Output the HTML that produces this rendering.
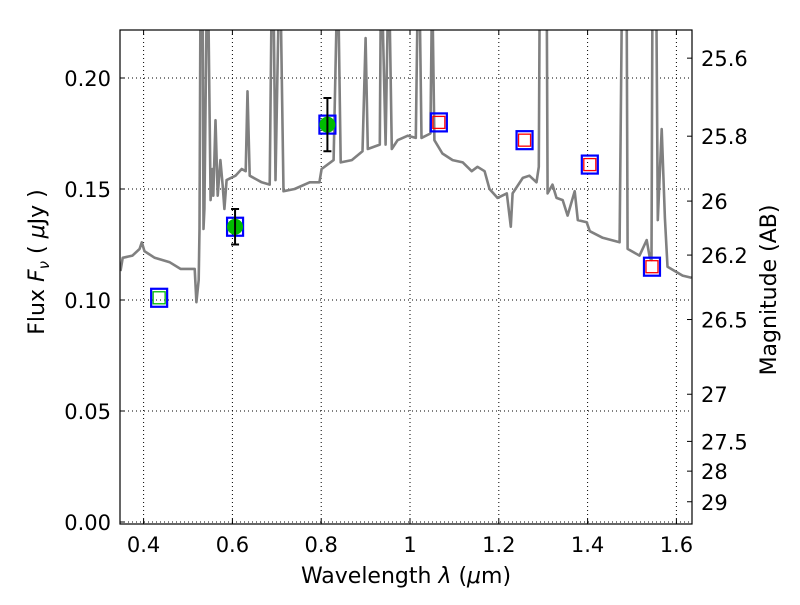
<!DOCTYPE html>
<html><head><meta charset="utf-8"><style>
body{margin:0;background:#fff}
svg text{font-family:"DejaVu Sans","Liberation Sans",sans-serif;fill:#000}
</style></head><body>
<svg id="chart" width="800" height="600" xmlns="http://www.w3.org/2000/svg"></svg>
<script>
const specLam=[0.348,0.353,0.375,0.391,0.396,0.402,0.425,0.459,0.483,0.515,0.519,0.524,0.526,0.528,0.533,0.535,0.537,0.542,0.546,0.551,0.555,0.557,0.562,0.567,0.573,0.578,0.582,0.587,0.607,0.621,0.630,0.634,0.639,0.666,0.684,0.688,0.693,0.697,0.704,0.709,0.715,0.740,0.774,0.796,0.801,0.828,0.835,0.839,0.844,0.869,0.893,0.900,0.905,0.932,0.934,0.938,0.945,0.950,0.954,0.959,0.972,0.995,1.013,1.017,1.022,1.026,1.046,1.049,1.051,1.055,1.073,1.096,1.119,1.139,1.152,1.168,1.179,1.197,1.218,1.227,1.231,1.254,1.269,1.285,1.290,1.292,1.308,1.310,1.321,1.330,1.344,1.355,1.371,1.378,1.398,1.405,1.434,1.472,1.477,1.488,1.490,1.517,1.533,1.540,1.544,1.546,1.555,1.558,1.567,1.574,1.580,1.614,1.634];
const specFlux=[0.113,0.119,0.120,0.123,0.126,0.122,0.119,0.117,0.114,0.114,0.099,0.109,0.132,0.23,0.23,0.132,0.141,0.23,0.23,0.145,0.159,0.147,0.181,0.147,0.163,0.152,0.141,0.154,0.156,0.159,0.158,0.194,0.156,0.153,0.152,0.23,0.23,0.154,0.23,0.23,0.149,0.150,0.153,0.153,0.159,0.163,0.23,0.23,0.162,0.163,0.167,0.218,0.168,0.170,0.23,0.23,0.170,0.23,0.23,0.168,0.172,0.174,0.173,0.23,0.23,0.173,0.175,0.23,0.23,0.172,0.166,0.163,0.162,0.158,0.160,0.158,0.150,0.146,0.148,0.133,0.148,0.155,0.156,0.153,0.160,0.23,0.23,0.148,0.152,0.146,0.145,0.138,0.149,0.136,0.135,0.131,0.128,0.126,0.23,0.23,0.123,0.120,0.127,0.119,0.118,0.23,0.23,0.136,0.177,0.137,0.115,0.111,0.110];
const obsLam=[0.606,0.814];
const obsFlux=[0.133,0.179];
const obsErr=[0.008,0.012];
const modLam=[0.435,0.606,0.814,1.065,1.258,1.405,1.545];
const modFlux=[0.101,0.133,0.179,0.180,0.172,0.161,0.115];
const modInner=['green','none','none','red','red','red','red'];
const xTicks=[0.4,0.6,0.8,1.0,1.2,1.4,1.6];
const xTickLabels=['0.4','0.6','0.8','1','1.2','1.4','1.6'];
const yTicks=[0,0.05,0.10,0.15,0.20];
const yTickLabels=['0.00','0.05','0.10','0.15','0.20'];
const magTicks=[25.6,25.8,26,26.2,26.5,27,27.5,28,29];
const magTickLabels=['25.6','25.8','26','26.2','26.5','27','27.5','28','29'];

const L=120,R=692,T=30,B=524;
const X=v=>410+(v-1.0)*444;
const Y=v=>522-v*2220;
const magToFlux=m=>3631e6*Math.pow(10,-m/2.5);
const svg=document.getElementById('chart');
const NS='http://www.w3.org/2000/svg';
function mk(tag,attrs,parent){const e=document.createElementNS(NS,tag);for(const k in attrs)e.setAttribute(k,attrs[k]);(parent||svg).appendChild(e);return e;}

const defs=mk('defs',{});
const cp=mk('clipPath',{id:'clip'},defs);
mk('rect',{x:L,y:T,width:R-L,height:B-T},cp);

xTicks.forEach((t,i)=>{
  const g=mk('line',{x1:X(t),x2:X(t),y1:T,y2:B,stroke:'#000','stroke-width':1,'stroke-dasharray':'1,3'});
  
  
  const tk=mk('line',{x1:X(t),x2:X(t),y1:B,y2:B-5,stroke:'#000'});
  
  
  mk('line',{x1:X(t),x2:X(t),y1:T,y2:T+5,stroke:'#000'});
  const tx=mk('text',{x:X(t),y:B+28,'text-anchor':'middle','font-size':21});
  tx.textContent=xTickLabels[i];
  
  
});
yTicks.forEach((t,i)=>{
  const g=mk('line',{x1:L,x2:R,y1:Y(t),y2:Y(t),stroke:'#000','stroke-width':1,'stroke-dasharray':'1,3'});
  
  
  const tk=mk('line',{x1:L,x2:L+5,y1:Y(t),y2:Y(t),stroke:'#000'});
  
  
  const tx=mk('text',{x:L-9,y:Y(t)+8,'text-anchor':'end','font-size':21});
  tx.textContent=yTickLabels[i];
  
  
});
magTicks.forEach((m,i)=>{
  const y=Y(magToFlux(m));
  const tk=mk('line',{x1:R,x2:R-5,y1:y,y2:y,stroke:'#000'});
  
  
  const tx=mk('text',{x:R+9,y:y+8,'font-size':21});
  tx.textContent=magTickLabels[i];
  
  
});

const pts=specLam.map((l,i)=>X(l).toFixed(1)+','+Y(specFlux[i]).toFixed(1)).join(' ');
const sp=mk('polyline',{points:pts,fill:'none',stroke:'#808080','stroke-width':2.6,'clip-path':'url(#clip)','stroke-linejoin':'round'});



modLam.forEach((l,i)=>{
  const x=X(l),y=Y(modFlux[i]);
  const o=mk('rect',{x:x-8,y:y-9,width:16,height:18,fill:'none',stroke:'#0000ff','stroke-width':2.2});
  
  
  if(modInner[i]!=='none'){
    const c=modInner[i]==='red'?'#ff0000':'#00bb00';
    const r=mk('rect',{x:x-6,y:y-6,width:12,height:12,fill:'none',stroke:c,'stroke-width':1.3});
    
    
  }
});
obsLam.forEach((l,i)=>{
  const x=X(l),y=Y(obsFlux[i]);
  const c=mk('circle',{cx:x,cy:y,r:8,fill:'#00bb00'});
  
  
  const y1=Y(obsFlux[i]+obsErr[i]),y2=Y(obsFlux[i]-obsErr[i]);
  const e=mk('path',{d:`M${x},${y1}V${y2}M${x-4},${y1}h8M${x-4},${y2}h8`,stroke:'#000','stroke-width':2,fill:'none'});
  
  
});

const fr=mk('rect',{x:L,y:T,width:R-L,height:B-T,fill:'none',stroke:'#000','stroke-width':1.2});



const xl=mk('text',{x:406,y:583,'text-anchor':'middle','font-size':22});
xl.innerHTML='Wavelength  <tspan font-style="italic">λ</tspan> (<tspan font-style="italic">μ</tspan>m)';


const yl=mk('text',{x:0,y:0,'text-anchor':'middle','font-size':22,transform:'translate(44,262) rotate(-90)'});
yl.innerHTML='Flux  <tspan font-style="italic">F</tspan><tspan font-style="italic" font-size="15" dy="5">ν</tspan><tspan dy="-5">  ( </tspan><tspan font-style="italic">μ</tspan>Jy )';


const rl=mk('text',{x:0,y:0,'text-anchor':'middle','font-size':22,transform:'translate(776,290) rotate(-90)'});
rl.textContent='Magnitude (AB)';


</script>
</body></html>
